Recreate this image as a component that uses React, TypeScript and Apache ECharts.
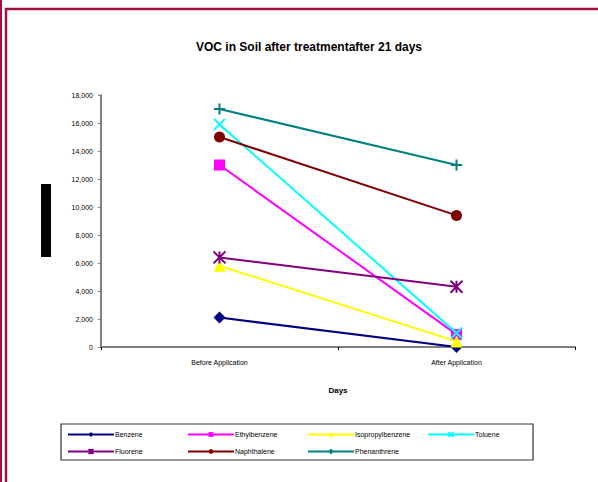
import React, { useEffect, useRef } from "react";
import * as echarts from "echarts";

const categories = ["Before Application", "After Application"];
const yTicks = [0, 2000, 4000, 6000, 8000, 10000, 12000, 14000, 16000, 18000];

const benzene = [2100, 0];
const ethylbenzene = [13000, 900];
const isopropylbenzene = [5800, 400];
const toluene = [15900, 1000];
const fluorene = [6400, 4300];
const naphthalene = [15000, 9400];
const phenanthrene = [17000, 13000];

const names = [
  "Benzene",
  "Ethylbenzene",
  "Isopropylbenzene",
  "Toluene",
  "Fluorene",
  "Naphthalene",
  "Phenanthrene",
];
const values = [benzene, ethylbenzene, isopropylbenzene, toluene, fluorene, naphthalene, phenanthrene];
const colors = ["#000080", "#FF00FF", "#FFFF00", "#00FFFF", "#800080", "#800000", "#008080"];

const X_PATH = "path://M0,0 L10,10 M10,0 L0,10";
const AST_PATH = "path://M5,0 L5,10 M0,0 L10,10 M10,0 L0,10";
const PLUS_PATH = "path://M5,0 L5,10 M0,5 L10,5";

const symbols = ["diamond", "rect", "triangle", X_PATH, AST_PATH, "circle", PLUS_PATH];
const symbolSizes = [12, 11, 12, 11, 12, 11, 11];
const stroked = [false, false, false, true, true, false, true];

const legendCols = [67, 187, 307, 427];
const legendRows = [431, 448];

export default function App() {
  const ref = useRef<HTMLDivElement>(null);
  useEffect(() => {
    if (!ref.current) return;
    const chart = echarts.init(ref.current, null, { renderer: "svg" });
    const font = "Liberation Sans, Arial, sans-serif";
    const series = names.map((n, i) => ({
      name: n,
      type: "line",
      data: values[i],
      symbol: symbols[i],
      symbolSize: symbolSizes[i],
      lineStyle: { color: colors[i], width: 2 },
      itemStyle: stroked[i]
        ? { color: "rgba(0,0,0,0)", borderColor: colors[i], borderWidth: 2 }
        : { color: colors[i], borderWidth: 0 },
      emphasis: { disabled: true },
      z: 2 + i,
    }));
    const legends = names.map((n, i) => ({
      data: [n],
      left: legendCols[i % 4],
      top: legendRows[Math.floor(i / 4)],
      orient: "horizontal",
      itemWidth: 46,
      itemHeight: 6,
      padding: 0,
      itemGap: 0,
      selectedMode: false,
      textStyle: { fontSize: 7, color: "#000", fontFamily: font, padding: [0, 0, 0, -4] },
    }));
    chart.setOption({
      animation: false,
      backgroundColor: "#fff",
      title: {
        text: "VOC in Soil after treatmentafter 21 days",
        left: 304,
        textAlign: "center",
        top: 36,
        textStyle: { fontSize: 12, fontWeight: "bold", color: "#000", fontFamily: font },
      },
      grid: { left: 101, right: 23, top: 95, bottom: 135 },
      xAxis: {
        type: "category",
        data: categories,
        boundaryGap: true,
        axisLine: { lineStyle: { color: "#808080", width: 2 } },
        axisTick: { show: true, length: 3, lineStyle: { color: "#000" } },
        axisLabel: { fontSize: 7, color: "#000", fontFamily: font, margin: 12 },
        name: "Days",
        nameLocation: "middle",
        nameGap: 39,
        nameTextStyle: { fontSize: 8, fontWeight: "bold", color: "#000", fontFamily: font },
        splitLine: { show: false },
      },
      yAxis: {
        type: "value",
        min: yTicks[0],
        max: yTicks[yTicks.length - 1],
        interval: yTicks[1] - yTicks[0],
        axisLine: { show: true, lineStyle: { color: "#808080", width: 2 } },
        axisTick: { show: true, length: 3, lineStyle: { color: "#808080" } },
        axisLabel: {
          fontSize: 7,
          color: "#000",
          fontFamily: font,
          margin: 8,
          formatter: (v: number) => v.toLocaleString("en-US"),
        },
        splitLine: { show: false },
      },
      legend: legends,
      series,
      graphic: [
        { type: "rect", shape: { x: 0, y: -2, width: 2, height: 490 }, style: { fill: "#A30F45" }, silent: true },
        {
          type: "rect",
          shape: { x: 6, y: 9, width: 700, height: 600 },
          style: { fill: "none", stroke: "#A30F45", lineWidth: 2.5 },
          silent: true,
        },
        { type: "rect", shape: { x: 41, y: 184, width: 10, height: 73 }, style: { fill: "#000" }, silent: true },
        {
          type: "rect",
          shape: { x: 61, y: 424, width: 472, height: 36 },
          style: { fill: "none", stroke: "#333", lineWidth: 1.2 },
          silent: true,
          z: -1,
        },
      ],
    });
    return () => chart.dispose();
  }, []);
  return <div ref={ref} style={{ position: "fixed", left: 0, top: 0, width: 598, height: 482 }} />;
}
